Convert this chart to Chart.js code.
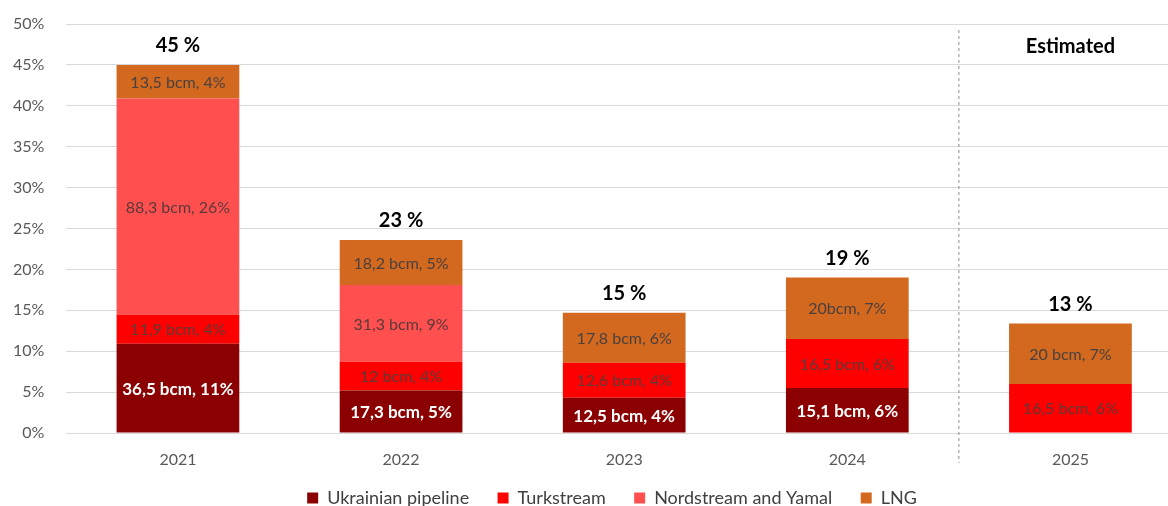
<!DOCTYPE html>
<html>
<head>
<meta charset="utf-8">
<script src="https://cdn.jsdelivr.net/npm/chart.js@4/dist/chart.umd.min.js"></script>
<style>
  html, body { margin: 0; padding: 0; background: #fff; overflow: hidden; }
  #wrap { width: 1200px; height: 506px; }
</style>
</head>
<body>
<div id="wrap"><canvas id="gasChart"></canvas></div>
<script>
// years and shares of EU gas imports (%)
const years = ['2021', '2022', '2023', '2024', '2025'];
const ukrainian = [10.9, 5.2, 4.3, 5.5, null];
const turkstream = [3.6, 3.5, 4.3, 6.0, 6.0];
const nordstream = [26.4, 9.4, null, null, null];
const lng = [4.1, 5.5, 6.1, 7.5, 7.4];

// text inside each segment
const ukrainianLabels = ['36,5 bcm, 11%', '17,3 bcm, 5%', '12,5 bcm, 4%', '15,1 bcm, 6%', ''];
const turkstreamLabels = ['11,9 bcm, 4%', '12 bcm, 4%', '12,6 bcm, 4%', '16,5 bcm, 6%', '16,5 bcm, 6%'];
const nordstreamLabels = ['88,3 bcm, 26%', '31,3 bcm, 9%', '', '', ''];
const lngLabels = ['13,5 bcm, 4%', '18,2 bcm, 5%', '17,8 bcm, 6%', '20bcm, 7%', '20 bcm, 7%'];
const totalLabels = ['45 %', '23 %', '15 %', '19 %', '13 %'];

const yTicks = [0, 5, 10, 15, 20, 25, 30, 35, 40, 45, 50];

const FONT = 'Lato, "Open Sans", sans-serif';

// draws the text in every segment, the totals, the dashed divider and "Estimated"
const labelPlugin = {
    id: 'segmentLabels',
    afterLayout(chart) {
        // nudge the legend to the right, the page crops the right edge of the plot
        if (chart.legend) {
            chart.legend.left += 18;
            chart.legend.right += 18;
        }
    },
    afterDatasetsDraw(chart) {
        const ctx = chart.ctx;
        const xScale = chart.scales.x;
        const yScale = chart.scales.y;
        ctx.save();
        ctx.textAlign = 'center';
        ctx.textBaseline = 'middle';

        chart.data.datasets.forEach((ds, di) => {
            const meta = chart.getDatasetMeta(di);
            meta.data.forEach((bar, i) => {
                const txt = ds.segmentText[i];
                if (!txt || ds.data[i] == null) return;
                const top = Math.min(bar.y, bar.base);
                const bottom = Math.max(bar.y, bar.base);
                ctx.fillStyle = ds.textColor;
                ctx.font = ds.textBold ? 'bold 17px ' + FONT : '16px ' + FONT;
                ctx.fillText(txt, bar.x, (top + bottom) / 2 + 1);
            });
        });

        // totals above each stack
        years.forEach((y, i) => {
            let sum = 0;
            chart.data.datasets.forEach(ds => { sum += ds.data[i] || 0; });
            const px = xScale.getPixelForValue(i);
            const py = yScale.getPixelForValue(sum);
            ctx.fillStyle = '#000';
            ctx.font = 'bold 20px ' + FONT;
            ctx.fillText(totalLabels[i], px, py - 19);
        });

        // dashed divider between 2024 and 2025
        const divX = (xScale.getPixelForValue(3) + xScale.getPixelForValue(4)) / 2;
        ctx.strokeStyle = '#8c8c8c';
        ctx.lineWidth = 1;
        ctx.setLineDash([3, 3]);
        ctx.beginPath();
        ctx.moveTo(divX, chart.chartArea.top + 6);
        ctx.lineTo(divX, chart.chartArea.bottom + 30);
        ctx.stroke();
        ctx.setLineDash([]);

        ctx.fillStyle = '#000';
        ctx.font = 'bold 20px ' + FONT;
        ctx.fillText('Estimated', xScale.getPixelForValue(4), yScale.getPixelForValue(47.3));
        ctx.restore();
    }
};

new Chart(document.getElementById('gasChart').getContext('2d'), {
    type: 'bar',
    data: {
        labels: years,
        datasets: [
            {
                label: 'Ukrainian pipeline',
                data: ukrainian,
                backgroundColor: '#8b0000',
                segmentText: ukrainianLabels,
                textColor: '#ffffff',
                textBold: true
            },
            {
                label: 'Turkstream',
                data: turkstream,
                backgroundColor: '#ff0000',
                segmentText: turkstreamLabels,
                textColor: '#5a3a3a'
            },
            {
                label: 'Nordstream and Yamal',
                data: nordstream,
                backgroundColor: '#ff4f4f',
                segmentText: nordstreamLabels,
                textColor: '#5a3a3a'
            },
            {
                label: 'LNG',
                data: lng,
                backgroundColor: '#d2691e',
                segmentText: lngLabels,
                textColor: '#4a4040'
            }
        ]
    },
    options: {
        responsive: true,
        maintainAspectRatio: false,
        animation: false,
        layout: {
            padding: { top: 24, right: 18, left: 6, bottom: -11 }
        },
        datasets: {
            bar: { categoryPercentage: 1, barPercentage: 0.55 }
        },
        plugins: {
            legend: {
                display: true,
                position: 'bottom',
                labels: {
                    boxWidth: 11,
                    boxHeight: 11,
                    padding: 10,
                    color: '#404040',
                    font: { family: FONT, size: 18 },
                    // wider gaps between items without a tall legend box
                    generateLabels(chart) {
                        const items = Chart.defaults.plugins.legend.labels.generateLabels(chart);
                        items.forEach((it, i) => {
                            if (i < items.length - 1) it.text = it.text + '    ';
                        });
                        return items;
                    }
                }
            },
            tooltip: { enabled: false }
        },
        scales: {
            x: {
                stacked: true,
                grid: { display: false, drawTicks: true, tickLength: 8 },
                border: { display: false },
                ticks: {
                    color: '#595959',
                    font: { family: FONT, size: 16, lineHeight: 1.625 },
                    padding: 6
                }
            },
            y: {
                stacked: true,
                min: 0,
                max: 50,
                afterBuildTicks(scale) {
                    scale.ticks = yTicks.map(v => ({ value: v }));
                },
                grid: {
                    color: '#d9d9d9',
                    lineWidth: 1,
                    drawTicks: true,
                    tickLength: 15,
                    tickColor: 'rgba(0,0,0,0)'
                },
                border: { display: false },
                ticks: {
                    color: '#595959',
                    font: { family: FONT, size: 16 },
                    padding: 7,
                    callback: v => v + '%'
                }
            }
        }
    },
    plugins: [labelPlugin]
});
</script>
</body>
</html>
